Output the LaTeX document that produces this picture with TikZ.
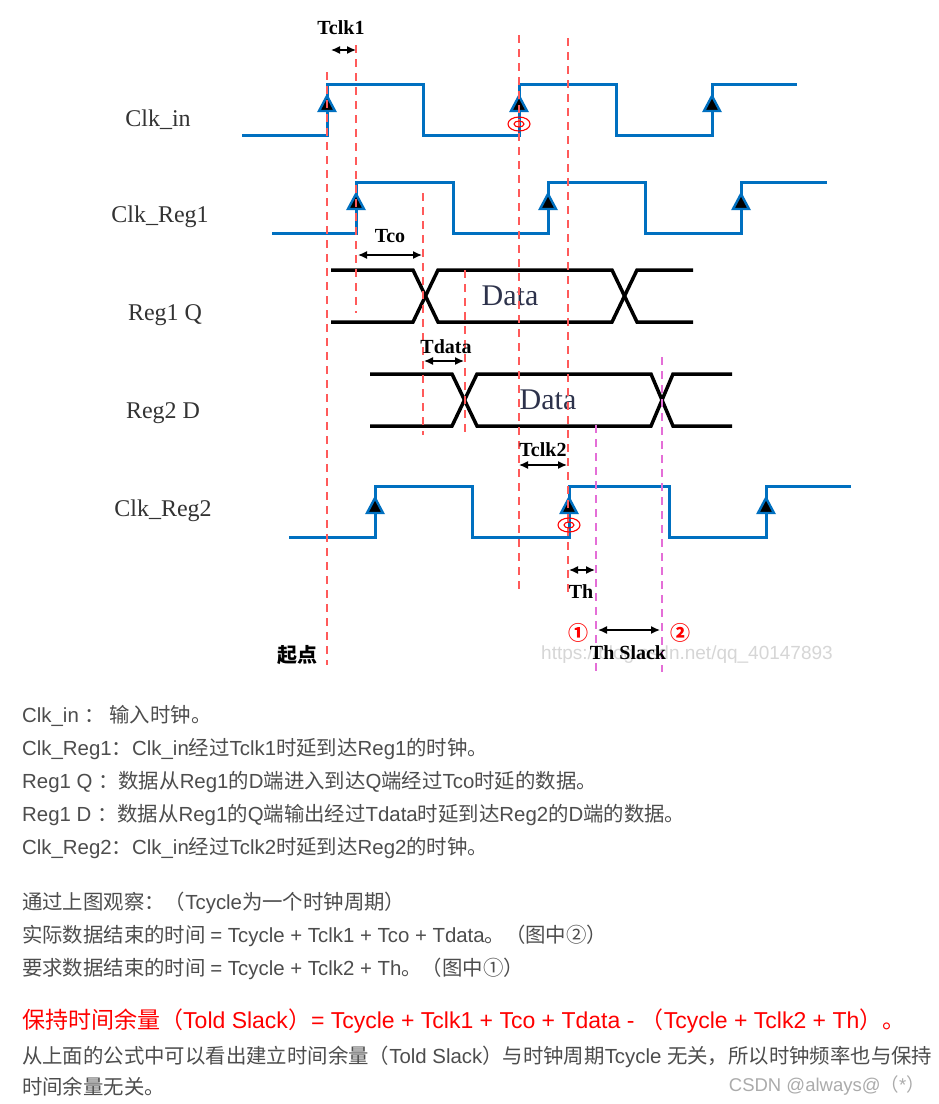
\documentclass[tikz,border=0pt]{standalone}
\usepackage{fontspec}
\setmainfont{Liberation Sans}
\newfontfamily\latinfont{Liberation Sans}
\newfontfamily\cjkfont{Noto Sans CJK SC}
\newfontfamily\labelfont{Liberation Serif}
\usetikzlibrary{arrows.meta}

\definecolor{clkblue}{RGB}{0,112,192}
\definecolor{guidered}{RGB}{255,90,90}
\definecolor{guidepink}{RGB}{228,110,215}
\definecolor{bodygray}{RGB}{77,77,77}
\definecolor{datagray}{RGB}{45,50,75}

% switch to the CJK font for Chinese characters
\newXeTeXintercharclass\cjkclass
\newcount\cjkcnt
\cjkcnt="2460
\loop \XeTeXcharclass\cjkcnt=\cjkclass \advance\cjkcnt by 1 \ifnum\cjkcnt<"2500 \repeat
\cjkcnt="3000
\loop \XeTeXcharclass\cjkcnt=\cjkclass \advance\cjkcnt by 1 \ifnum\cjkcnt<"A000 \repeat
\cjkcnt="FF00
\loop \XeTeXcharclass\cjkcnt=\cjkclass \advance\cjkcnt by 1 \ifnum\cjkcnt<"FFF0 \repeat
\XeTeXinterchartoks 0 \cjkclass = {\cjkfont}
\XeTeXinterchartoks 4095 \cjkclass = {\cjkfont}
\XeTeXinterchartoks \cjkclass 0 = {\latinfont}
\XeTeXinterchartoks 4095 0 = {\latinfont}

% clock: low level, start, rise, fall, rise, fall, rise, end
\newcommand\clockwave[8]{%
  \draw[clk] (#2,#1) -- (#3,#1) -- (#3,#1-51) -- (#4,#1-51) -- (#4,#1)
    -- (#5,#1) -- (#5,#1-51) -- (#6,#1-51) -- (#6,#1) -- (#7,#1)
    -- (#7,#1-51) -- (#8,#1-51);
  \foreach \r in {#3,#5,#7}
    \draw[edgemark] (\r-8,#1-24) -- (\r,#1-39) -- (\r+8,#1-24) -- cycle;
}
% bus: top, bottom, start, cross 1, cross 2, end
\newcommand\buswave[8]{%
  \draw[bus] (#3,#1) -- (#4,#1) -- (#5,#2) -- (#6,#2) -- (#7,#1) -- (#8,#1);
  \draw[bus] (#3,#2) -- (#4,#2) -- (#5,#1) -- (#6,#1) -- (#7,#2) -- (#8,#2);
}

\begin{document}
\begin{tikzpicture}[x=1pt,y=-1pt,
  clk/.style={draw=clkblue, line width=3pt},
  edgemark/.style={draw=clkblue, fill=black, line width=2.4pt, line join=miter},
  bus/.style={draw=black, line width=3.5pt},
  guide/.style={draw=guidered, line width=1.5pt, dash pattern=on 8pt off 6pt},
  guidepk/.style={draw=guidepink, line width=1.5pt, dash pattern=on 8pt off 6pt},
  dim/.style={{Latex[length=9pt,width=8pt]}-{Latex[length=9pt,width=8pt]}, line width=1.4pt},
  sig/.style={anchor=base, inner sep=0pt, text=black!80, font=\labelfont\fontsize{24}{24}\selectfont},
  datatxt/.style={inner sep=0pt, text=datagray, font=\labelfont\fontsize{30}{30}\selectfont},
  tname/.style={inner sep=0pt, font=\labelfont\bfseries\fontsize{20}{20}\selectfont},
  circnum/.style={inner sep=0pt, text=red, font=\cjkfont\bfseries\fontsize{20}{20}\selectfont},
  target/.style={draw=red, line width=1.1pt},
  desc/.style={anchor=base west, inner sep=0pt, text=bodygray,
    font={\XeTeXinterchartokenstate=1 \fontsize{20.4}{24}\selectfont}},
]
\useasboundingbox (0,0) rectangle (938,1104);
\fill[white] (0,0) rectangle (938,1104);

% watermark
\node[inner sep=0pt, text=black!16, font=\latinfont\fontsize{19}{19}\selectfont] (wmark) at (687,655) {https://blog.csdn.net/qq\_40147893};

% signal names
\node[sig] (lclkin) at (158,126) {Clk\_in};
\node[sig] (lclkr1) at (160,222) {Clk\_Reg1};
\node[sig] (lreg1q) at (165,320) {Reg1 Q};
\node[sig] (lreg2d) at (163,418) {Reg2 D};
\node[sig] (lclkr2) at (163,516) {Clk\_Reg2};

% waveforms
\clockwave{135}{242}{327}{423}{519}{616}{712}{797}
\clockwave{233}{272}{356}{453}{548}{645}{741}{827}
\clockwave{537}{289}{375}{472}{569}{669}{766}{851}
\buswave{270}{322}{331}{413}{438}{612}{637}{693}
\buswave{374}{426}{370}{452}{477}{651}{673}{732}
\node[datatxt] (data1) at (510,296) {Data};
\node[datatxt] (data2) at (548,400) {Data};

% guides
\foreach \x/\ya/\yb in {327/72/665, 356/45/313, 423/193/435, 465/270/435,
                        519/35/592, 568/38/593}
  \draw[guide] (\x,\ya) -- (\x,\yb);
\foreach \x/\ya/\yb in {596/425/672, 662/357/672}
  \draw[guidepk] (\x,\ya) -- (\x,\yb);

% sampled edges
\foreach \x/\y in {519/124, 569/525} {
  \draw[target] (\x,\y) ellipse [x radius=11, y radius=7];
  \draw[target] (\x,\y) ellipse [x radius=5, y radius=3];
}

% delays
\foreach \nm/\xa/\xb/\yy in {tclka/331/356/50, tco/358/422/255, tdata/424/464/361,
                             tclkb/519/567/465, th/569/595/570, slack/598/660/630} {
  \coordinate (\nm-l) at (\xa,\yy);
  \coordinate (\nm-r) at (\xb,\yy);
  \draw[dim] (\nm-l) -- (\nm-r);
}
\node[tname] (ntclka) at (341,28) {Tclk1};
\node[tname] (ntco) at (390,236) {Tco};
\node[tname] (ntdata) at (446,347) {Tdata};
\node[tname] (ntclkb) at (543,450) {Tclk2};
\node[tname] (nth) at (581,592) {Th};
\node[tname] (nslack) at (628,653) {Th Slack};
\node[circnum] (one) at (578,633) {①};
\node[circnum] (two) at (680,633) {②};
\node[inner sep=0pt, font=\cjkfont\bfseries\fontsize{20}{20}\selectfont] (origin) at (297,655) {起点};

% notes
\node[desc] (d1) at (22,722) {Clk\_in ： 输入时钟。};
\node[desc] (d2) at (22,755) {Clk\_Reg1：Clk\_in经过Tclk1时延到达Reg1的时钟。};
\node[desc] (d3) at (22,788) {Reg1 Q ：数据从Reg1的D端进入到达Q端经过Tco时延的数据。};
\node[desc] (d4) at (22,821) {Reg1 D ：数据从Reg1的Q端输出经过Tdata时延到达Reg2的D端的数据。};
\node[desc] (d5) at (22,854) {Clk\_Reg2：Clk\_in经过Tclk2时延到达Reg2的时钟。};
\node[desc] (d6) at (22,909) {通过上图观察：（Tcycle为一个时钟周期）};
\node[desc] (d7) at (22,942) {实际数据结束的时间 = Tcycle + Tclk1 + Tco + Tdata。（图中②）};
\node[desc] (d8) at (22,975) {要求数据结束的时间 = Tcycle + Tclk2 + Th。（图中①）};
\node[desc, text=red, font={\XeTeXinterchartokenstate=1 \fontsize{23}{27}\selectfont}] (d9) at (22,1028)
  {保持时间余量（Told Slack）= Tcycle + Tclk1 + Tco + Tdata - （Tcycle + Tclk2 + Th）。};
\node[desc] (d10) at (22,1063) {从上面的公式中可以看出建立时间余量（Told Slack）与时钟周期Tcycle 无关，所以时钟频率也与保持};
\node[desc] (d11) at (22,1094) {时间余量无关。};
\node[desc, anchor=base east, text=black!33, font={\XeTeXinterchartokenstate=1 \fontsize{18.5}{22}\selectfont}] (csdn) at (925,1091) {CSDN @always@（*）};
\end{tikzpicture}
\end{document}
